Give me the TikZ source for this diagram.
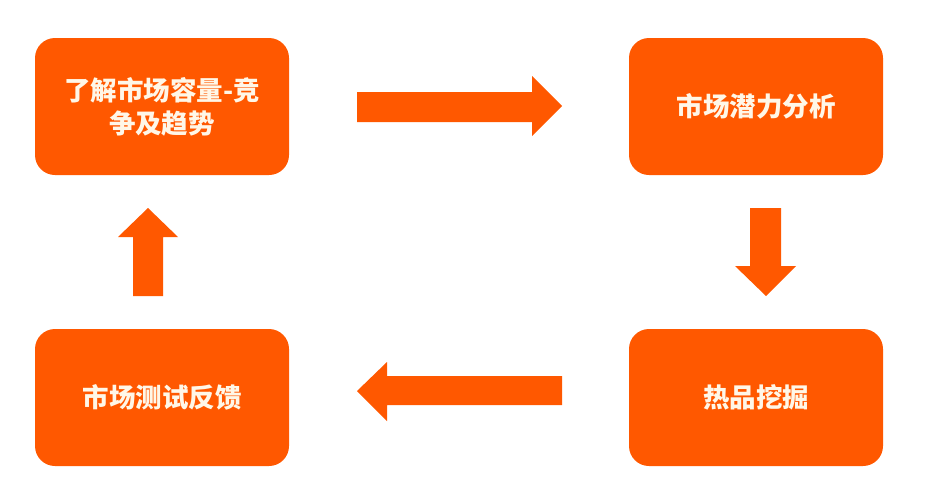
\documentclass[tikz,border=0pt]{standalone}
\usepackage{fontspec}
\newfontfamily\cjk{Noto Sans CJK SC}
\definecolor{org}{RGB}{255,88,0}
\definecolor{txt}{RGB}{255,247,232}
\begin{document}
\begin{tikzpicture}[x=1pt,y=-1pt,
  box/.style={fill=org, rounded corners=20pt, minimum width=254pt, minimum height=137pt,
    inner sep=0pt, text=txt, font=\cjk\bfseries\fontsize{26.5}{33}\selectfont, align=center},
  blk/.style={fill=org}]
\useasboundingbox[fill=white] (0,0) rectangle (940,499);
\node[box] (a) at (162,106.5) {了解市场容量-竞\\争及趋势};
\node[box] (b) at (756,106.5) {市场潜力分析};
\node[box] (c) at (756,397.5) {热品挖掘};
\node[box] (d) at (162,397.5) {市场测试反馈};
% right arrow
\fill[blk] (357,92) -- (532,92) -- (532,76) -- (562,106) -- (532,136) -- (532,122) -- (357,122) -- cycle;
% down arrow
\fill[blk] (750,208) -- (781,208) -- (781,266) -- (796,266) -- (766,296) -- (735,266) -- (750,266) -- cycle;
% left arrow
\fill[blk] (562,376) -- (387,376) -- (387,362) -- (357,391) -- (387,421) -- (387,405) -- (562,405) -- cycle;
% up arrow
\fill[blk] (133,296) -- (133,237) -- (118,237) -- (148,208) -- (178,237) -- (163,237) -- (163,296) -- cycle;
\end{tikzpicture}
\end{document}
